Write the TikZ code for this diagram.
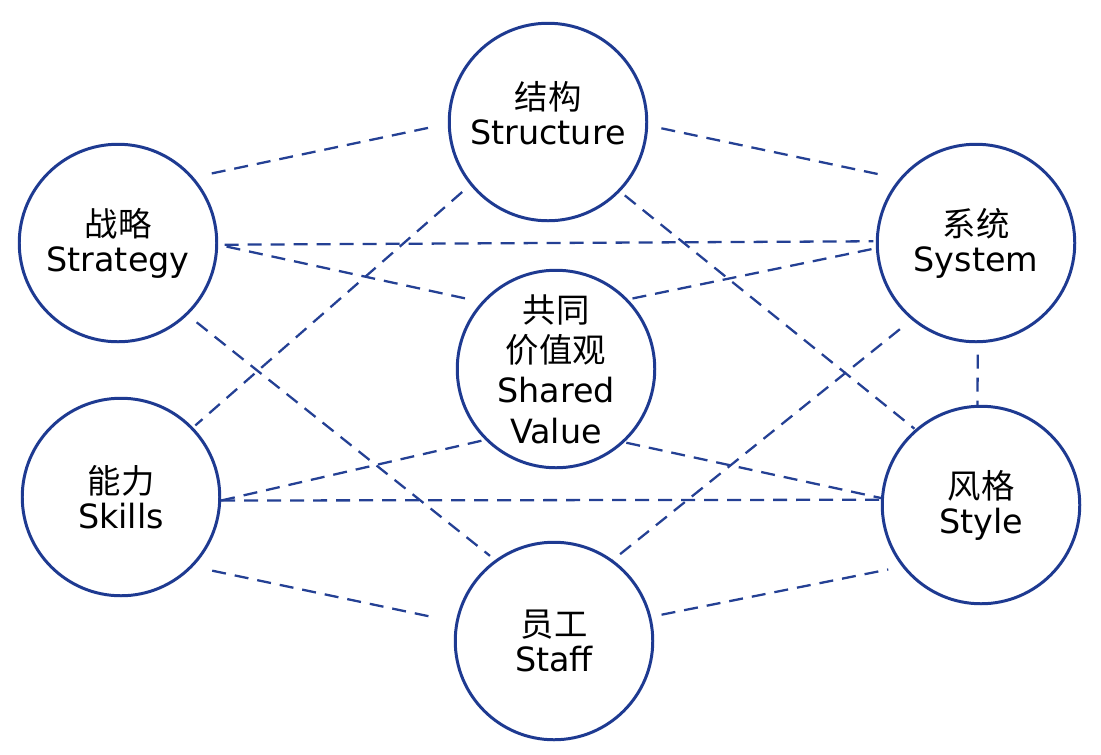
\documentclass[tikz,border=0pt]{standalone}
\usepackage{fontspec}
\setmainfont{DejaVu Sans}
\newfontfamily\cjk{Noto Sans CJK SC}
\usepackage{xcolor}
\definecolor{sevenblue}{RGB}{30,58,145}
\definecolor{sevenbluel}{RGB}{36,64,148}

\begin{document}
\begin{tikzpicture}[x=0.2mm,y=-0.2mm,
  factor/.style={circle,draw=sevenblue,line width=1.7pt,minimum size=3.95cm,inner sep=0pt,
    align=center,font=\fontsize{19}{20}\selectfont},
  link/.style={sevenbluel,line width=1.3pt,dash pattern=on 2.8mm off 1.8mm}]
  \useasboundingbox (0,0) rectangle (1101,754);
  \node[factor] (strategy)  at (118,243) {{\cjk 战略}\\Strategy};
  \node[factor,text depth=3.6mm] (structure) at (548,122) {{\cjk 结构}\\Structure};
  \node[factor] (system)    at (976,243) {{\cjk 系统}\\System};
  \node[factor,font=\fontsize{19}{23}\selectfont] (shared) at (556,369)
    {{\cjk 共同}\\{\cjk 价值观}\\Shared\\Value};
  \node[factor] (skills)    at (121,497) {{\cjk 能力}\\Skills};
  \node[factor] (style)     at (981,505) {{\cjk 风格}\\Style};
  \node[factor] (staff)     at (554,641) {{\cjk 员工}\\Staff};
  % dashed links, anchors picked so each line keeps its own slant
  \foreach \a/\b/\s/\e in {strategy.41/structure.181/3.7/2.5, strategy.-1/system.179/1.3/0.5,
      strategy.-1/shared.138/1.7/2.6, structure.219/skills.44/2.1/0.6,
      strategy.-46/staff.126/2.3/1.3, structure.-2/system.140/2.7/2.8,
      structure.-44/style.131/1.2/0.2, shared.44/system.183/0.9/0.5,
      system.230/staff.54/3.0/0, system.-89/style.92/2.3/0,
      skills.-2/shared.225/0/0.4, skills.-2/style.177/0/0,
      shared.-47/style.176/0.4/0, skills.-44/staff.169/3.9/4.1,
      staff.14/style.218/2.1/2.8}
    \draw[link,shorten <=\s mm,shorten >=\e mm] (\a) -- (\b);
\end{tikzpicture}
\end{document}
